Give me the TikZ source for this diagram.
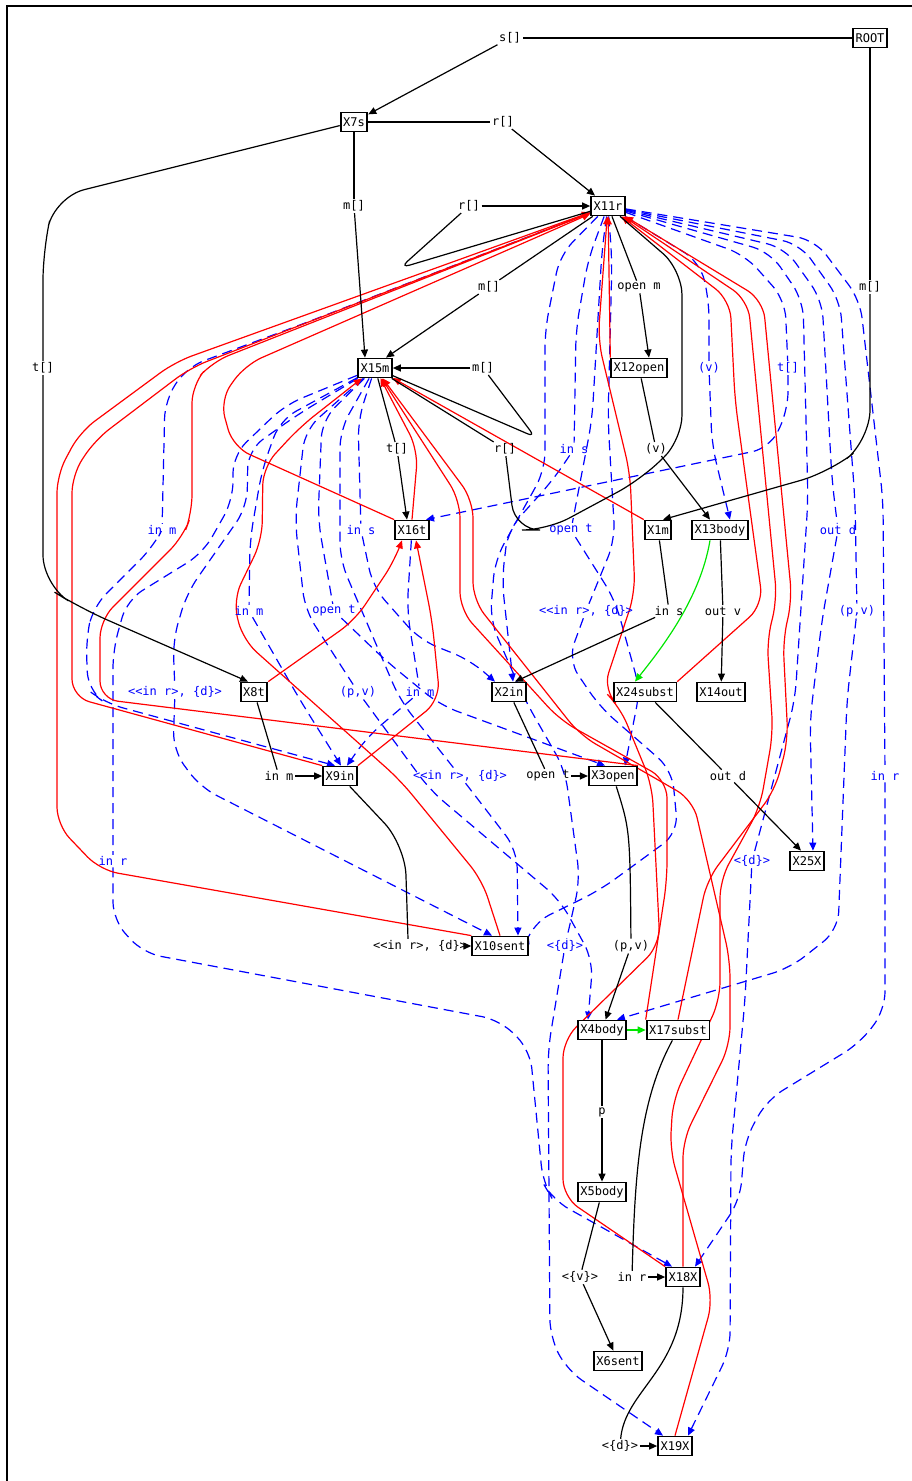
\documentclass[tikz,border=0pt]{standalone}
\usepackage{fontspec}
\newfontfamily\monof{DejaVu Sans Mono}
\usetikzlibrary{arrows.meta,calc,backgrounds}
\begin{document}
\begin{tikzpicture}[x=1pt,y=-1pt,
 box/.style={draw,line width=1.8pt,fill=white,font=\monof\fontsize{12}{13}\selectfont,inner xsep=2.5pt,inner ysep=2pt,minimum height=19pt},
 lb/.style={font=\monof\fontsize{12}{13}\selectfont,inner sep=1.5pt},
 bl/.style={lb,text=blue},
 arr/.style={-{Triangle[length=8pt,width=7pt]}},
 blk/.style={draw=black,line width=1.2pt},
 blka/.style={blk,arr},
 grn/.style={draw={rgb,255:red,0;green,230;blue,0},line width=1.2pt,arr},
 rd/.style={draw=red,line width=1.2pt,rounded corners=18pt,arr},
 bd/.style={draw=blue,line width=1.2pt,dash pattern=on 10pt off 6pt,rounded corners=18pt},
 bda/.style={bd,arr}]
\useasboundingbox (0,0) rectangle (912,1481);
\draw[line width=2pt] (7,1481) -- (7,6) -- (912,6);
% nodes
\node[box] (ROOT) at (870,38) {ROOT};
\node[box] (X7s) at (354,122) {X7s};
\node[box] (X11r) at (608,206) {X11r};
\node[box] (X15m) at (375,368) {X15m};
\node[box] (X12open) at (639,368) {X12open};
\node[box] (X16t) at (412,530) {X16t};
\node[box] (X1m) at (658,530) {X1m};
\node[box] (X13body) at (720,530) {X13body};
\node[box] (X8t) at (254,692) {X8t};
\node[box] (X2in) at (509,692) {X2in};
\node[box] (X24subst) at (645,692) {X24subst};
\node[box] (X14out) at (721,692) {X14out};
\node[box] (X9in) at (340,776) {X9in};
\node[box] (X3open) at (613,776) {X3open};
\node[box] (X25X) at (807,861) {X25X};
\node[box] (X10sent) at (500,946) {X10sent};
\node[box] (X4body) at (602,1030) {X4body};
\node[box] (X17subst) at (678,1030) {X17subst};
\node[box] (X5body) at (602,1192) {X5body};
\node[box] (X18X) at (683,1277) {X18X};
\node[box] (X6sent) at (618,1361) {X6sent};
\node[box] (X19X) at (675,1446) {X19X};
% black labels
\node[lb] (ls) at (510,38) {s[]};
\node[lb] (lr1) at (503,122) {r[]};
\node[lb] (lm1) at (354,206) {m[]};
\node[lb] (lr2) at (469,206) {r[]};
\node[lb] (lm2) at (489,287) {m[]};
\node[lb] (lom) at (639,287) {open m};
\node[lb] (lm3) at (870,287) {m[]};
\node[lb] (lt1) at (43,368) {t[]};
\node[lb] (lm4) at (483,368) {m[]};
\node[lb] (lt2) at (397,449) {t[]};
\node[lb] (lr3) at (505,449) {r[]};
\node[lb] (lv) at (656,449) {(v)};
\node[lb] (lis) at (669,611) {in s};
\node[lb] (lov) at (723,611) {out v};
\node[lb] (lim) at (279,776) {in m};
\node[lb] (lot) at (548,776) {open t};
\node[lb] (lod) at (728,776) {out d};
\node[lb] (lird) at (420,946) {<<in r>, \{d\}>};
\node[lb] (lpv) at (631,946) {(p,v)};
\node[lb] (lp) at (602,1112) {p};
\node[lb] (lvv) at (580,1277) {<\{v\}>};
\node[lb] (lir) at (632,1277) {in r};
\node[lb] (ldd) at (620,1446) {<\{d\}>};
% blue labels
\node[bl] (bim1) at (162,530) {in m};
\node[bl] (bis1) at (361,530) {in s};
\node[bl] (bis2) at (574,449) {in s};
\node[bl] (bot1) at (571,530) {open t};
\node[bl] (bv) at (709,368) {(v)};
\node[bl] (bt) at (788,368) {t[]};
\node[bl] (bod) at (838,530) {out d};
\node[bl] (bim2) at (249,611) {in m};
\node[bl] (bot2) at (334,611) {open t};
\node[bl] (bird1) at (586,611) {<<in r>, \{d\}>};
\node[bl] (bpv1) at (857,611) {(p,v)};
\node[bl] (bird2) at (175,692) {<<in r>, \{d\}>};
\node[bl] (bpv2) at (358,692) {(p,v)};
\node[bl] (bim3) at (420,692) {in m};
\node[bl] (bird3) at (460,776) {<<in r>, \{d\}>};
\node[bl] (bir1) at (885,776) {in r};
\node[bl] (bir2) at (113,861) {in r};
\node[bl] (bd1) at (752,861) {<\{d\}>};
\node[bl] (bd2) at (565,946) {<\{d\}>};

\begin{scope}[on background layer]
% blue dashed edges
\draw[bd] (X11r) -- (700,262) -- (709,300) -- (bv);
\draw[bda] (bv) -- (712,445) -- ([xshift=10pt]X13body.north);
\draw[bd] (X11r) -- (745,255) -- (785,300) -- (bt);
\draw[bda] (bt) -- (788,410) -- (770,448) -- ([xshift=14pt]X16t.north);
\draw[bd] (X11r) -- (770,252) -- (803,300) -- (808,500) -- (795,700) -- (bd1);
\draw[bda] (bd1) -- (745,1000) -- (731,1150) -- (730,1350) -- ([xshift=13pt]X19X.north);
\draw[bd] (X11r) -- (785,248) -- (822,300) -- (832,480) -- (bod);
\draw[bda] (bod) -- (822,620) -- (810,720) -- ([xshift=6pt]X25X.north);
\draw[bd] (X11r) -- (800,244) -- (840,300) -- (855,500) -- (bpv1);
\draw[bda] (bpv1) -- (847,700) -- (838,930) -- (790,968) -- ([xshift=15pt]X4body.north);
\draw[bd] (X11r) -- (815,240) -- (860,300) -- (883,500) -- (bir1);
\draw[bda] (bir1) -- (885,1010) -- (860,1043) -- (767,1100) -- (745,1140) -- (740,1200) -- ([xshift=12pt]X18X.north);
\draw[bd] (X11r) -- (300,325) -- (187,367) -- (165,400) -- (bim1);
\draw[bda] (bim1) -- (153,547) -- (93,607) -- (86,640) -- (88,690) -- (105,703) -- ([xshift=-5pt]X9in.north);
\draw[bd] (X11r) -- (588,260) -- (576,330) -- (bis2);
\draw[bda] (bis2) -- (553,480) -- (508,530) -- (502,580) -- ([xshift=4pt]X2in.north);
\draw[bd] (X11r) -- (602,250) -- (592,420) -- (bot1);
\draw[bda] (bot1) -- (615,600) -- (640,690) -- ([xshift=12pt]X3open.north);
\draw[bd] (X11r) -- (612,260) -- (608,420) -- (615,540) -- (bird1);
\draw[bda] (bird1) -- (568,660) -- (600,707) -- (672,770) -- (678,833) -- (600,890) -- (533,923) -- (X10sent.north east);
\draw[bd] (X16t) -- (407,610) -- (bim3);
\draw[bda] (bim3) -- (367,737) -- ([xshift=7pt]X9in.north);
\draw[bd] (X15m) -- (280,420) -- (262,470) -- (250,540) -- (bim2);
\draw[bda] (bim2) -- (300,700) -- ([xshift=1pt]X9in.north);
\draw[bd] (X15m) -- (322,420) -- (318,520) -- (bot2);
\draw[bda] (bot2) -- (385,660) -- (440,705) -- ([xshift=-8pt]X3open.north);
\draw[bd] (X15m) -- (358,420) -- (bis1);
\draw[bda] (bis1) -- (373,587) -- (420,640) -- (470,660) -- ([xshift=-14pt]X2in.north);
\draw[bd] (X15m) -- (297,415) -- (248,450) -- (247,507) -- (187,593) -- (173,640) -- (bird2);
\draw[bda] (bird2) -- (173,750) -- (200,787) -- ([xshift=-8pt]X10sent.north);
\draw[bd] (X15m) -- (305,430) -- (295,520) -- (305,610) -- (bpv2);
\draw[bda] (bpv2) -- (430,790) -- (560,900) -- (593,960) -- ([xshift=-14pt]X4body.north);
\draw[bd] (X15m) -- (285,405) -- (233,455) -- (233,500) -- (203,553) -- (127,600) -- (113,650) -- (bir2);
\draw[bda] (bir2) -- (113,920) -- (143,953) -- (500,1020) -- (530,1050) -- (543,1183) -- (553,1200) -- ([xshift=-11pt]X18X.north);
\draw[bd] (X15m) -- (340,430) -- (340,560) -- (400,700) -- (bird3);
\draw[bda] (bird3) -- (517,850) -- ([xshift=18pt]X10sent.north);
\draw[bd] (X11r) -- (560,255) -- (545,330) -- (545,470) -- (495,560) -- (490,620) -- (525,700) -- (565,770) -- (580,880) -- (bd2);
\draw[bda] (bd2) -- (548,1050) -- (550,1337) -- (567,1370) -- ([xshift=-12pt]X19X.north);
% red edges
\draw[rd] (X10sent.north west) -- (100,870) -- (57,825) -- (57,475) -- (80,432) -- (175,362) -- (X11r);
\draw[rd] (X9in.north west) -- (72,697) -- (72,475) -- (95,440) -- (190,368) -- (X11r);
\draw[rd] (X3open.north east) -- (100,699) -- (100,620) -- (183,537) -- (192,513) -- (192,385) -- (212,362) -- (X11r);
\draw[rd] (X16t.north west) -- (233,447) -- (220,400) -- (245,365) -- (X11r);
\draw[rd] (X12open.north west) -- (X11r);
\draw[rd] (X18X.north west) -- (563,1197) -- (563,1040) -- (660,945) -- (652,785) -- (620,707) -- (603,690) -- (635,593) -- (630,473) -- (598,340) -- (X11r);
\draw[rd] (X24subst.north east) -- (763,605) -- (735,400) -- (730,300) -- (X11r);
\draw[rd] (X19X.north) -- (713,1300) -- (670,1150) -- (673,1100) -- (720,1000) -- (720,880) -- (760,807) -- (773,733) -- (767,640) -- (777,600) -- (748,300) -- (X11r);
\draw[rd] (X17subst.north) -- (707,880) -- (775,790) -- (788,740) -- (783,640) -- (792,600) -- (763,300) -- (X11r);
\draw[rd] (X16t.north) -- (418,450) -- (X15m);
\draw[rd] (X1m.north west) -- (X15m);
\draw[rd] (X10sent.north) -- (482,880) -- (400,780) -- (243,640) -- (233,600) -- (262,540) -- (263,467) -- (300,427) -- (X15m);
\draw[rd] (X17subst.north west) -- (667,880) -- (667,780) -- (560,720) -- (460,610) -- (460,500) -- (X15m);
\draw[rd] (X18X.north) -- (683,1140) -- (730,1045) -- (730,960) -- (693,800) -- (580,735) -- (473,600) -- (473,500) -- (X15m);
\draw[rd] (X8t.north east) -- (355,620) -- (395,560) -- ([xshift=-10pt]X16t.south);
\draw[rd] (X9in.north east) -- (440,700) -- (432,620) -- ([xshift=4pt]X16t.south);
% black edges
\draw[blk] (ROOT) -- (ls);
\draw[blka] (ls) -- (X7s);
\draw[blk] (X7s) -- (lr1);
\draw[blka] (lr1) -- (X11r);
\draw[blk] (X7s) -- (lm1);
\draw[blka] (lm1) -- ([xshift=-10pt]X15m.north);
\draw[blk,rounded corners=30pt] (X7s) -- (55,197) -- (43,250) -- (lt1);
\draw[blka,rounded corners=30pt] (lt1) -- (43,585) -- (80,608) -- ([xshift=-6pt]X8t.north);
\draw[blk,rounded corners=10pt] (X11r) -- (400,268) -- (lr2);
\draw[blka] (lr2) -- (X11r);
\draw[blk] (X11r) -- (lm2);
\draw[blka] (lm2) -- ([xshift=11pt]X15m.north);
\draw[blk] (X11r) -- (lom);
\draw[blka] (lom) -- ([xshift=10pt]X12open.north);
\draw[blk] (ROOT) -- (lm3);
\draw[blka,rounded corners=30pt] (lm3) -- (870,440) -- (830,472) -- ([xshift=5pt]X1m.north);
\draw[blk,rounded corners=25pt] (X11r) -- (682,270) -- (682,440) -- (640,480) -- (547,530) -- (515,530) -- (lr3);
\draw[blk] (lr3) -- (X15m);
\draw[blk,rounded corners=8pt] (X15m) -- (535,437) -- (lm4);
\draw[blka] (lm4) -- (X15m);
\draw[blk] (X12open) -- (lv);
\draw[blka] (lv) -- ([xshift=-10pt]X13body.north);
\draw[blk] (X15m) -- (lt2);
\draw[blka] (lt2) -- ([xshift=-5pt]X16t.north);
\draw[blk] (X1m) -- (lis);
\draw[blka] (lis) -- ([xshift=6pt]X2in.north);
\draw[blk] (X13body) -- (lov);
\draw[blka] (lov) -- (X14out);
\draw[grn] ([xshift=-10pt]X13body.south) .. controls (700,600) and (660,650) .. ([xshift=-10pt]X24subst.north);
\draw[blk] (X8t) -- (lim);
\draw[blka] (lim) -- (X9in);
\draw[blk] (X2in) -- (lot);
\draw[blka] (lot) -- (X3open);
\draw[blk] (X24subst) -- (lod);
\draw[blka] (lod) -- ([xshift=-6pt]X25X.north);
\draw[blk,rounded corners=30pt] (X9in) -- (405,845) -- ([xshift=-12pt]lird.north);
\draw[blka] (lird) -- (X10sent);
\draw[blk] (X3open) .. controls (630,830) .. (lpv);
\draw[blka] (lpv) -- (X4body);
\draw[grn] (X4body) -- (X17subst);
\draw[blk] (X4body) -- (lp);
\draw[blka] (lp) -- (X5body);
\draw[blk] (X5body) -- (lvv);
\draw[blka] (lvv) -- (X6sent);
\draw[blk] (X17subst) .. controls (640,1100) and (635,1170) .. (lir);
\draw[blka] (lir) -- (X18X);
\draw[blk] (X18X) .. controls (683,1370) and (625,1390) .. (ldd);
\draw[blka] (ldd) -- (X19X);
\end{scope}
\end{tikzpicture}
\end{document}
